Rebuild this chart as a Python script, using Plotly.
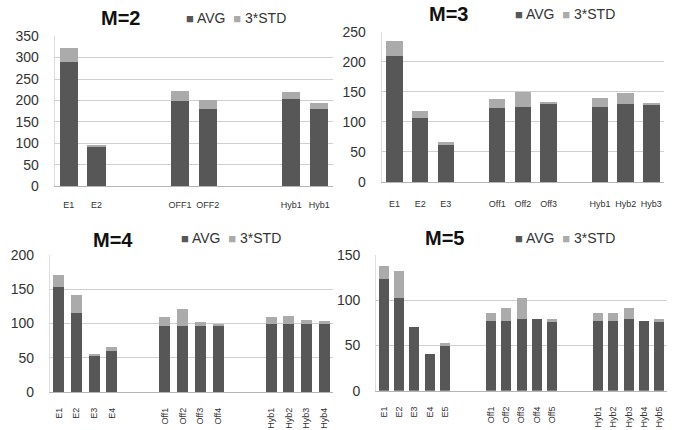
import plotly.graph_objects as go

# ---- data ----
M2_labels = ["E1", "E2", "", "", "OFF1", "OFF2", "", "", "Hyb1", "Hyb1"]
M2_avg = [290, 93, None, None, 199, 181, None, None, 204, 181]
M2_std = [33, 4, None, None, 23, 20, None, None, 15, 13]

M3_labels = ["E1", "E2", "E3", "", "Off1", "Off2", "Off3", "", "Hyb1", "Hyb2", "Hyb3"]
M3_avg = [209, 106, 62, None, 123, 125, 129, None, 125, 129, 130]
M3_std = [26, 12, 5, None, 15, 25, 4, None, 15, 19, 2]

M4_labels = ["E1", "E2", "E3", "E4", "", "", "Off1", "Off2", "Off3", "Off4", "", "",
             "Hyb1", "Hyb2", "Hyb3", "Hyb4"]
M4_avg = [154, 116, 54, 60, None, None, 96, 96, 96, 96, None, None, 99, 99, 99, 99]
M4_std = [17, 25, 1, 6, None, None, 13, 25, 7, 4, None, None, 10, 12, 6, 5]

M5_labels = ["E1", "E2", "E3", "E4", "E5", "", "", "Off1", "Off2", "Off3", "Off4", "Off5", "", "",
             "Hyb1", "Hyb2", "Hyb3", "Hyb4", "Hyb5"]
M5_avg = [124, 103, 70, 41, 49, None, None, 77, 77, 79, 79, 76, None, None, 77, 77, 79, 77, 76]
M5_std = [14, 29, 0, 0, 4, None, None, 9, 15, 23, 0, 3, None, None, 9, 9, 13, 0, 3]

titles = ["M=2", "M=3", "M=4", "M=5"]
ymax = [350, 250, 200, 150]
series_names = ["AVG", "3*STD"]

AVG_C = "#575757"
STD_C = "#ababab"
FONT = "Liberation Sans, Arial, sans-serif"

panels = [
    dict(labels=M2_labels, avg=M2_avg, std=M2_std, xd=[0.080, 0.487], yd=[0.567, 0.916],
         angle=0, title_xy=(120, 18), leg_xy=(184, 18), width=0.65, stand=10),
    dict(labels=M3_labels, avg=M3_avg, std=M3_std, xd=[0.558, 0.971], yd=[0.577, 0.926],
         angle=0, title_xy=(448, 14), leg_xy=(513, 14), width=0.64, stand=13),
    dict(labels=M4_labels, avg=M4_avg, std=M4_std, xd=[0.073, 0.487], yd=[0.088, 0.407],
         angle=-90, title_xy=(113, 240), leg_xy=(179, 238), width=0.62, stand=11),
    dict(labels=M5_labels, avg=M5_avg, std=M5_std, xd=[0.550, 0.975], yd=[0.091, 0.407],
         angle=-90, title_xy=(444, 238), leg_xy=(513, 238), width=0.65, stand=11),
]

W, H = 684, 430
fig = go.Figure()
layout = {}
annotations = []
for i, p in enumerate(panels):
    n = i + 1
    xa = "x" if n == 1 else f"x{n}"
    ya = "y" if n == 1 else f"y{n}"
    xs = list(range(len(p["labels"])))
    fig.add_trace(go.Bar(x=xs, y=p["avg"], name=series_names[0], marker_color=AVG_C, width=p["width"],
                         xaxis=xa, yaxis=ya, marker_line_width=0, showlegend=False))
    fig.add_trace(go.Bar(x=xs, y=p["std"], name=series_names[1], marker_color=STD_C, width=p["width"],
                         xaxis=xa, yaxis=ya, marker_line_width=0, showlegend=False))
    tv = [k for k, l in enumerate(p["labels"]) if l]
    tt = [l for l in p["labels"] if l]
    xkey = "xaxis" if n == 1 else f"xaxis{n}"
    ykey = "yaxis" if n == 1 else f"yaxis{n}"
    layout[xkey] = dict(domain=p["xd"], anchor=ya, range=[-0.5, len(xs) - 0.5],
                        tickvals=tv, ticktext=tt, tickangle=p["angle"],
                        tickfont=dict(size=9, color="#333", family=FONT),
                        showgrid=False, showline=True, linecolor="#b5b5b5", linewidth=1,
                        ticks="", zeroline=False, ticklabelstandoff=p["stand"], automargin=False)
    layout[ykey] = dict(domain=p["yd"], anchor=xa, range=[0, ymax[i]], dtick=50,
                        showgrid=True, gridcolor="#cfcfcf", gridwidth=1,
                        tickfont=dict(size=14, color="#333", family=FONT),
                        showline=True, linecolor="#dddddd", zeroline=False,
                        ticks="", ticklabelstandoff=12, automargin=False)
    # legend (AVG / 3*STD) drawn as text
    leg_txt = (f"<span style='color:{AVG_C};font-size:13px'>■</span> {series_names[0]}  "
               f"<span style='color:{STD_C};font-size:13px'>■</span> {series_names[1]}")
    annotations.append(dict(text=leg_txt, x=p["leg_xy"][0] / W, y=1 - p["leg_xy"][1] / H,
                            xref="paper", yref="paper", showarrow=False, xanchor="left",
                            yanchor="middle", font=dict(size=14, color="#333", family=FONT)))
    annotations.append(dict(text=f"<b>{titles[i]}</b>", x=p["title_xy"][0] / W, y=1 - p["title_xy"][1] / H,
                            xref="paper", yref="paper", showarrow=False, xanchor="center",
                            yanchor="middle", font=dict(size=20, color="#111", family=FONT)))

fig.update_layout(width=W, height=H, margin=dict(l=0, r=0, t=0, b=0, autoexpand=False),
                  paper_bgcolor="white", plot_bgcolor="white", barmode="stack",
                  annotations=annotations, showlegend=False, hovermode=False, **layout)
fig.write_html("out.html", config={"displayModeBar": False},
               post_script="document.body.style.margin='0';document.body.style.overflow='hidden';")
